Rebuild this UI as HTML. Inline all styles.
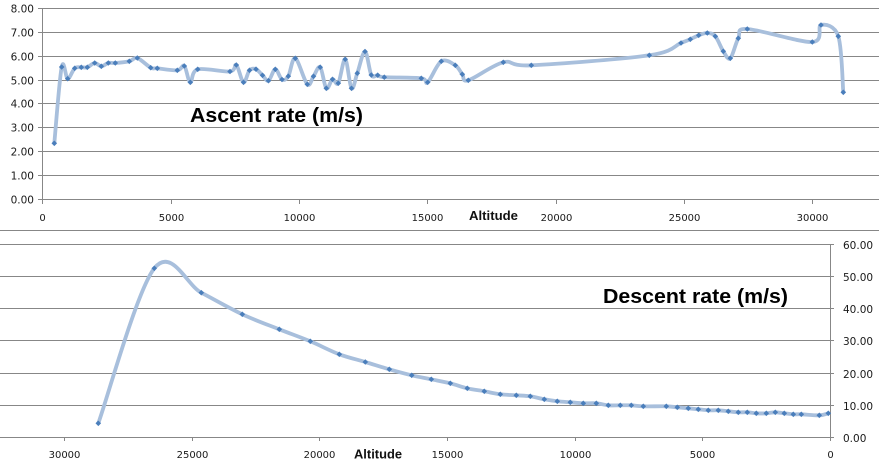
<!DOCTYPE html>
<html><head><meta charset="utf-8"><style>
html,body{margin:0;padding:0;background:#fff;}
svg{display:block;}
.yl{font-family:"DejaVu Sans","Liberation Sans",sans-serif;font-size:10.5px;fill:#1a1a1a;}
.xl{font-family:"DejaVu Sans","Liberation Sans",sans-serif;font-size:10px;fill:#1a1a1a;}
.ax{font-family:"Liberation Sans",sans-serif;font-size:13px;font-weight:bold;fill:#111;}
.tt{font-family:"Liberation Sans",sans-serif;font-size:20px;font-weight:bold;fill:#000;}
</style></head><body>
<svg id="s" width="879" height="469" viewBox="0 0 879 469" xmlns="http://www.w3.org/2000/svg">
<rect width="879" height="469" fill="#fff"/>
<g stroke="#878787" stroke-width="1" fill="none" shape-rendering="crispEdges">
<!-- top gridlines -->
<path d="M42 8.5H879M42 32.5H879M42 56.5H879M42 80.5H879M42 103.5H879M42 127.5H879M42 151.5H879M42 175.5H879M38 199.5H879"/>
<path d="M38 8.5H42M38 32.5H42M38 56.5H42M38 80.5H42M38 103.5H42M38 127.5H42M38 151.5H42M38 175.5H42"/>
<path d="M42.5 8V204"/>
<path d="M171.5 199V204M299.5 199V204M427.5 199V204M556.5 199V204M684.5 199V204M812.5 199V204"/>
<!-- bottom -->
<path d="M0 230.5H879"/>
<path d="M0 244.5H834M0 276.5H834M0 308.5H834M0 340.5H834M0 373.5H834M0 405.5H834M0 437.5H834"/>
<path d="M830.5 244V441"/>
<path d="M702.5 437V441M575.5 437V441M447.5 437V441M319.5 437V441M192.5 437V441M64.5 437V441"/>
</g>
<g class="yl" text-anchor="end">
<text x="34" y="12.5">8.00</text><text x="34" y="36.5">7.00</text><text x="34" y="60.5">6.00</text><text x="34" y="84.5">5.00</text><text x="34" y="107.5">4.00</text><text x="34" y="131.5">3.00</text><text x="34" y="155.5">2.00</text><text x="34" y="179.5">1.00</text><text x="34" y="203.5">0.00</text>
</g>
<g class="xl" text-anchor="middle">
<text x="42.5" y="221">0</text><text x="171.5" y="221">5000</text><text x="299.5" y="221">10000</text><text x="427.5" y="221">15000</text><text x="556.5" y="221">20000</text><text x="684.5" y="221">25000</text><text x="812.5" y="221">30000</text>
</g>
<text class="ax" x="469" y="220" textLength="49" lengthAdjust="spacingAndGlyphs">Altitude</text>
<text class="tt" x="190" y="122" textLength="173" lengthAdjust="spacingAndGlyphs">Ascent rate (m/s)</text>
<g class="yl">
<text x="843" y="249">60.00</text><text x="843" y="281">50.00</text><text x="843" y="313">40.00</text><text x="843" y="345">30.00</text><text x="843" y="378">20.00</text><text x="843" y="410">10.00</text><text x="843" y="442">0.00</text>
</g>
<g class="xl" text-anchor="middle">
<text x="830.5" y="458">0</text><text x="702.5" y="458">5000</text><text x="575.5" y="458">10000</text><text x="447.5" y="458">15000</text><text x="319.5" y="458">20000</text><text x="192.5" y="458">25000</text><text x="64.5" y="458">30000</text>
</g>
<text class="ax" x="354" y="458.5" textLength="48" lengthAdjust="spacingAndGlyphs">Altitude</text>
<text class="tt" x="603" y="303" textLength="185" lengthAdjust="spacingAndGlyphs">Descent rate (m/s)</text>
<path id="l1" fill="none" stroke="#a8bfdc" stroke-width="3.8" stroke-linejoin="round" stroke-linecap="round" d=""/>
<path id="l2" fill="none" stroke="#a8bfdc" stroke-width="3.8" stroke-linejoin="round" stroke-linecap="round" d=""/>
<g id="m" fill="#4a7ebb"></g>
</svg>
<script>
var A=[[54.3,143.3],[61.7,67],[67.7,78.7],[74.7,68.3],[81.3,67.3],[87.3,67.3],[94.7,63],[101.3,66.3],[108.3,63],[115.3,63],[129.3,61.3],[137.3,58],[150.7,67.7],[157.3,68.3],[177.3,70.3],[184.3,66],[190.3,82.3],[197.7,69.3],[230,71.5],[236.3,65],[243.5,82.3],[249.5,70.3],[256,69.2],[262.5,75.3],[268.5,80.7],[275.3,69.3],[282,79.5],[288.3,76.2],[295.3,58.3],[307.3,84.3],[313.5,76.3],[320.2,67.2],[326.3,88.3],[332.5,79.3],[338.3,83.2],[345.2,59.3],[351.5,88.3],[357.3,73.2],[365,51.5],[371.3,75],[377.7,75.2],[384.3,77.2],[421.3,78.3],[427.7,82.3],[441.3,61.3],[455.3,65.3],[462.3,74.3],[468.3,80.3],[503.3,62.3],[531.3,65.3],[649.3,55.3],[681,43],[690.3,39.3],[698.7,35.3],[707.3,33],[715.3,36.3],[723.3,51.3],[730.3,58.3],[738.3,38.3],[747.3,29],[812.3,42],[821,25],[838.3,36.3],[843.3,92.3]];
var B=[[98.3,423.3],[154.3,268.3],[201.3,292.7],[242.3,314.3],[279.3,329.3],[310.3,341.3],[339.3,354.3],[365.3,362],[389.3,369.3],[411.7,375.3],[431.3,379.3],[450.3,383.3],[467.3,388.3],[484.3,391.3],[500.3,394.3],[516.3,395.3],[530.3,396.3],[544.3,399.3],[557.3,401.3],[570.3,402.3],[583.3,403.3],[596.3,403.3],[608.3,405.3],[620.3,405.3],[631.3,405.3],[643.3,406.3],[666.3,406.3],[677.3,407.3],[688.3,408.3],[698.3,409.3],[708.3,410.3],[718.3,410.3],[728.3,411.3],[738.3,412.3],[747.3,412.3],[756.3,413.3],[766.3,413.3],[775.3,412.3],[784.3,413.3],[793.3,414.3],[801.3,414.3],[819.3,415.3],[828.3,413.3]];
function sp(P){var n=P.length,d="M"+P[0][0]+" "+P[0][1];
for(var i=0;i<n-1;i++){var p0=P[Math.max(0,i-1)],p1=P[i],p2=P[i+1],p3=P[Math.min(n-1,i+2)];
var c1x=p1[0]+(p2[0]-p0[0])/6,c1y=p1[1]+(p2[1]-p0[1])/6,c2x=p2[0]-(p3[0]-p1[0])/6,c2y=p2[1]-(p3[1]-p1[1])/6;
d+="C"+c1x.toFixed(2)+" "+c1y.toFixed(2)+" "+c2x.toFixed(2)+" "+c2y.toFixed(2)+" "+p2[0]+" "+p2[1];}
return d;}
document.getElementById("l1").setAttribute("d",sp(A));
document.getElementById("l2").setAttribute("d",sp(B));
var g=document.getElementById("m"),h="",r=2.8;
A.concat(B).forEach(function(p){var x=p[0],y=p[1];
h+='<path d="M'+x+' '+(y-r)+'L'+(x+r)+' '+y+'L'+x+' '+(y+r)+'L'+(x-r)+' '+y+'Z"/>';});
g.innerHTML=h;
</script>
</body></html>
